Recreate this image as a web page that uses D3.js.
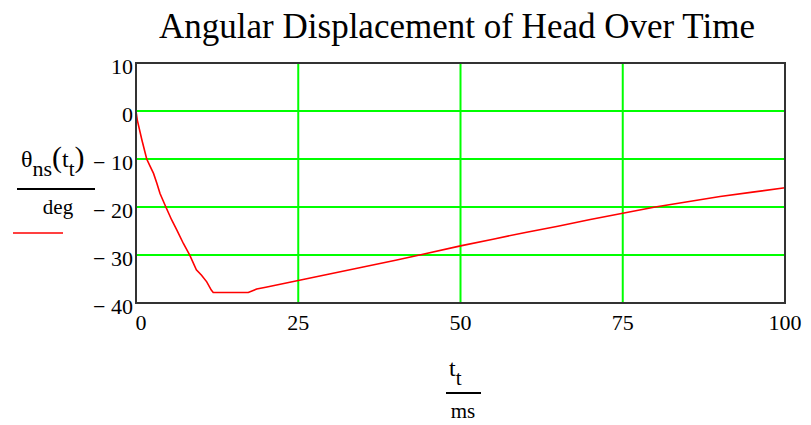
<!DOCTYPE html>
<html>
<head>
<meta charset="utf-8">
<script src="https://cdn.jsdelivr.net/npm/d3@7"></script>
</head>
<body style="margin:0;background:#fff">
<script>
// values (time in ms, angle in deg)
let timeMs = [0, 0.2, 0.9, 1.65, 2.2, 2.7, 3.2, 3.7, 4.6, 5.5, 6.3, 7.3, 8.3, 9.3, 10.1, 10.9, 11.6, 11.9, 17.3, 18.6, 20, 25, 30, 35, 40, 43.7, 50, 55, 60, 65, 70, 75, 80, 85, 90, 95, 100];
let thetaDeg = [0, -1.9, -6, -10, -11.6, -13, -15, -17.2, -20, -22.7, -24.8, -27.6, -30.1, -33.1, -34.2, -35.6, -37.3, -37.8, -37.8, -37.1, -36.7, -35.3, -33.9, -32.5, -31.1, -30, -28.1, -26.7, -25.3, -24, -22.6, -21.3, -20, -18.9, -17.8, -16.9, -16];
let xTicks = [0, 25, 50, 75, 100];
let yTicks = [10, 0, -10, -20, -30, -40];

let margin = {top: 63, right: 26, bottom: 122, left: 136}
    , width = 811 - margin.left - margin.right
    , height = 425 - margin.top - margin.bottom;

let serif = "'Liberation Serif', serif";

let svg = d3.select("body").append("svg")
    .attr("width", 811)
    .attr("height", 425);

let g = svg.append("g")
    .attr("transform", "translate(" + margin.left + "," + margin.top + ")");

let x = d3.scaleLinear().domain([0, 100]).range([0, width]),
    y = d3.scaleLinear().domain([-40, 10]).range([height, 0]);

// grid
g.selectAll(".hgrid")
    .data(yTicks.filter(function(d) { return d > -40 && d < 10; }))
    .enter().append("line")
    .attr("x1", 0).attr("x2", width)
    .attr("y1", function(d) { return y(d); })
    .attr("y2", function(d) { return y(d); })
    .attr("stroke", "#00ff00").attr("stroke-width", 2);

g.selectAll(".vgrid")
    .data(xTicks.filter(function(d) { return d > 0 && d < 100; }))
    .enter().append("line")
    .attr("y1", 0).attr("y2", height)
    .attr("x1", function(d) { return x(d); })
    .attr("x2", function(d) { return x(d); })
    .attr("stroke", "#00ff00").attr("stroke-width", 2);

// curve
let line = d3.line()
    .x(function(d, i) { return x(timeMs[i]); })
    .y(function(d) { return y(d); });

g.append("path")
    .datum(thetaDeg)
    .attr("fill", "none")
    .attr("stroke", "#ff0000")
    .attr("stroke-width", 1.6)
    .attr("d", line);

// frame
g.append("rect")
    .attr("width", width).attr("height", height)
    .attr("fill", "none")
    .attr("stroke", "#333").attr("stroke-width", 2);

// title
svg.append("text")
    .attr("x", 457)
    .attr("y", 38)
    .attr("text-anchor", "middle")
    .style("font-size", "35px")
    .text("Angular Displacement of Head Over Time");

// tick labels
function fmt(v) { return v < 0 ? "\u2212 " + Math.abs(v) : String(v); }

g.selectAll(".ylab")
    .data(yTicks)
    .enter().append("text")
    .attr("x", -3)
    .attr("y", function(d) { return y(d) + 11; })
    .attr("text-anchor", "end")
    .style("font-size", "22px")
    .text(fmt);

g.selectAll(".xlab")
    .data(xTicks)
    .enter().append("text")
    .attr("x", function(d) { return x(d) + (d === 0 ? 5 : 0); })
    .attr("y", height + 27)
    .attr("text-anchor", "middle")
    .style("font-size", "22px")
    .text(fmt);

// y axis label: theta_ns(t_t) / deg
let yl = svg.append("text")
    .attr("x", 21)
    .attr("y", 167)
    .style("font-size", "24px");
yl.append("tspan").text("\u03b8");
yl.append("tspan").attr("dy", 9).style("font-size", "22px").text("ns");
yl.append("tspan").attr("dy", -9).style("font-size", "30px").text("(");
yl.append("tspan").text("t");
yl.append("tspan").attr("dy", 9).style("font-size", "21px").text("t");
yl.append("tspan").attr("dy", -9).style("font-size", "30px").text(")");

svg.append("line")
    .attr("x1", 17).attr("x2", 95)
    .attr("y1", 189).attr("y2", 189)
    .attr("stroke", "#000").attr("stroke-width", 2);

svg.append("text")
    .attr("x", 58).attr("y", 214)
    .attr("text-anchor", "middle")
    .style("font-size", "21px")
    .text("deg");

svg.append("line")
    .attr("x1", 13).attr("x2", 63)
    .attr("y1", 233).attr("y2", 233)
    .attr("stroke", "#ff0000").attr("stroke-width", 1.6);

// x axis label: t_t / ms
let xl = svg.append("text")
    .attr("x", 449)
    .attr("y", 376)
    .style("font-size", "24px");
xl.append("tspan").text("t");
xl.append("tspan").attr("dy", 9).style("font-size", "21px").text("t");

svg.append("line")
    .attr("x1", 446).attr("x2", 481)
    .attr("y1", 393).attr("y2", 393)
    .attr("stroke", "#000").attr("stroke-width", 2);

svg.append("text")
    .attr("x", 463).attr("y", 418)
    .attr("text-anchor", "middle")
    .style("font-size", "21px")
    .text("ms");

// serif on every text and tspan, with priority over any outside rule
svg.selectAll("text, tspan")
    .attr("font-family", serif)
    .style("font-family", serif, "important")
    .style("fill", "#000");
</script>
</body>
</html>
